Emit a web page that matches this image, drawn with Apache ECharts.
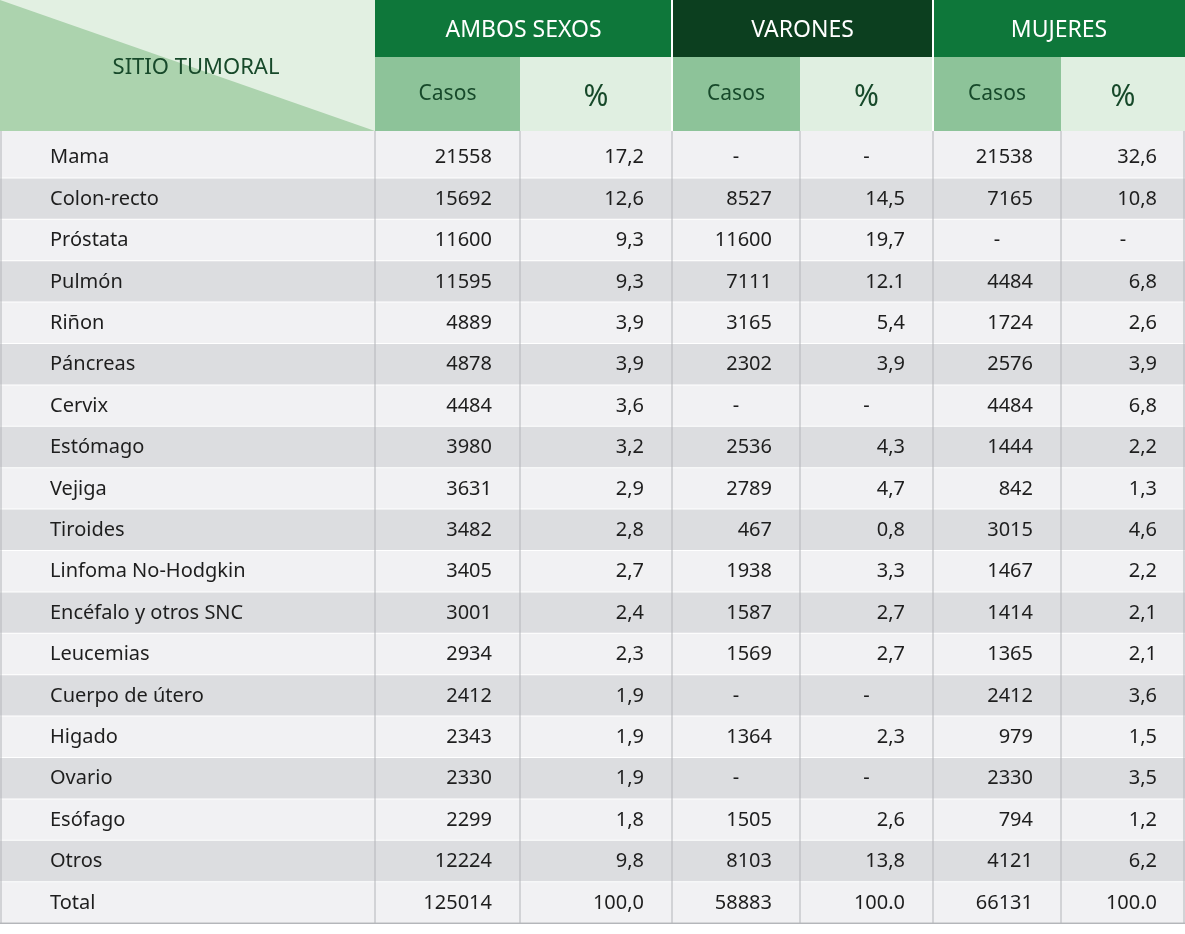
<!DOCTYPE html>
<html><head><meta charset="utf-8">
<script src="https://cdn.jsdelivr.net/npm/echarts@6/dist/echarts.min.js"></script>
<style>html,body{margin:0;background:#fff}#main{width:1185px;height:934px}</style>
</head><body><div id="main"></div>
<script>
var sites = ['Mama','Colon-recto','Próstata','Pulmón','Riñon','Páncreas','Cervix','Estómago','Vejiga','Tiroides','Linfoma No-Hodgkin','Encéfalo y otros SNC','Leucemias','Cuerpo de útero','Higado','Ovario','Esófago','Otros','Total'];
var ambosCasos = ['21558','15692','11600','11595','4889','4878','4484','3980','3631','3482','3405','3001','2934','2412','2343','2330','2299','12224','125014'];
var ambosPct = ['17,2','12,6','9,3','9,3','3,9','3,9','3,6','3,2','2,9','2,8','2,7','2,4','2,3','1,9','1,9','1,9','1,8','9,8','100,0'];
var varCasos = ['-','8527','11600','7111','3165','2302','-','2536','2789','467','1938','1587','1569','-','1364','-','1505','8103','58883'];
var varPct = ['-','14,5','19,7','12.1','5,4','3,9','-','4,3','4,7','0,8','3,3','2,7','2,7','-','2,3','-','2,6','13,8','100.0'];
var mujCasos = ['21538','7165','-','4484','1724','2576','4484','1444','842','3015','1467','1414','1365','2412','979','2330','794','4121','66131'];
var mujPct = ['32,6','10,8','-','6,8','2,6','3,9','6,8','2,2','1,3','4,6','2,2','2,1','2,1','3,6','1,5','3,5','1,2','6,2','100.0'];
var groups = ['AMBOS SEXOS','VARONES','MUJERES'];
var subHeads = ['Casos','%'];

var colX = [0,375,520,672,800,933,1061,1185];
var rowTop = 137, rowH = 41.4;
var font = '"Noto Sans", sans-serif';
var g = [];

// left header with diagonal split
g.push({type:'rect',shape:{x:0,y:0,width:375,height:131},style:{fill:'#e2f0e2'}});
g.push({type:'polygon',shape:{points:[[0,0],[375,131],[0,131]]},style:{fill:'#acd3ae'}});
g.push({type:'text',x:196,y:68,style:{text:'SITIO TUMORAL',fill:'#17492a',font:'22px '+font,align:'center',verticalAlign:'middle'}});

var groupFill = ['#0e773a','#0c3f1f','#0e773a'];
for (var k=0;k<3;k++){
  var x0 = colX[1+2*k], x1 = colX[3+2*k];
  g.push({type:'rect',shape:{x:x0,y:0,width:x1-x0,height:57},style:{fill:groupFill[k]}});
  g.push({type:'text',x:(x0+x1)/2,y:30,style:{text:groups[k],fill:'#fff',font:'23px '+font,align:'center',verticalAlign:'middle'}});
  for (var s=0;s<2;s++){
    var a = colX[1+2*k+s], b = colX[2+2*k+s];
    g.push({type:'rect',shape:{x:a,y:57,width:b-a,height:74},style:{fill:s? '#e0efe1':'#8dc399'}});
    g.push({type:'text',x:(a+b)/2,y:s?97:94,style:{text:subHeads[s],fill:'#17492a',font:(s?'30px ':'21px ')+font,align:'center',verticalAlign:'middle'}});
  }
  if (k>0) g.push({type:'rect',shape:{x:x0-1,y:0,width:2,height:131},style:{fill:'#fff'}});
}

var cols = [ambosCasos,ambosPct,varCasos,varPct,mujCasos,mujPct];
var tableEnd = rowTop + sites.length*rowH;
g.push({type:'rect',shape:{x:0,y:131,width:1185,height:6},style:{fill:'#f1f1f3'}});
for (var i=0;i<sites.length;i++){
  var y = rowTop + i*rowH;
  g.push({type:'rect',shape:{x:0,y:y,width:1185,height:rowH},style:{fill:i%2? '#dcdde0':'#f1f1f3'}});
  g.push({type:'rect',shape:{x:0,y:y+rowH-1,width:1185,height:1.5},style:{fill:'#fff'}});
  g.push({type:'text',x:50,y:y+rowH/2,style:{text:sites[i],fill:'#1e1e1e',font:'20px '+font,verticalAlign:'middle'}});
  for (var c=0;c<6;c++){
    var v = cols[c][i], a2 = colX[c+1], b2 = colX[c+2];
    var dash = v==='-';
    g.push({type:'text',x:dash?(a2+b2)/2:b2-28,y:y+rowH/2,style:{text:v,fill:'#1e1e1e',font:'20px '+font,align:dash?'center':'right',verticalAlign:'middle'}});
  }
}
for (var c=1;c<7;c++){
  g.push({type:'rect',shape:{x:colX[c]-0.5,y:131,width:1,height:tableEnd-131},style:{fill:'#b4b6ba'}});
}
g.push({type:'rect',shape:{x:0,y:tableEnd-1,width:1185,height:1.5},style:{fill:'#b4b6ba'}});
g.push({type:'rect',shape:{x:0.5,y:131,width:1,height:tableEnd-131},style:{fill:'#b4b6ba'}});
g.push({type:'rect',shape:{x:1183.5,y:131,width:1,height:tableEnd-131},style:{fill:'#b4b6ba'}});

var chart = echarts.init(document.getElementById('main'));
chart.setOption({animation:false,graphic:g});
</script>
</body></html>
